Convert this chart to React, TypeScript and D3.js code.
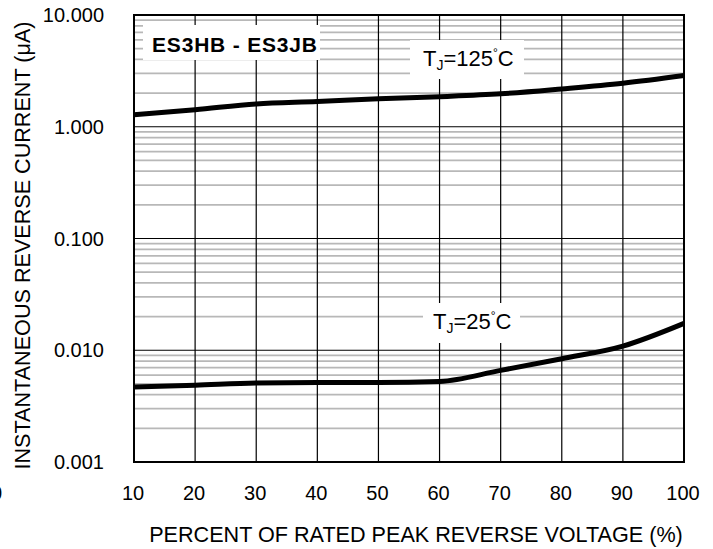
import React, { useEffect, useRef } from 'react';
import * as d3 from 'd3';

const percents = [10, 20, 30, 40, 50, 60, 70, 80, 90, 100];
const current125 = [1.28, 1.42, 1.6, 1.68, 1.78, 1.86, 1.97, 2.18, 2.45, 2.87];
const current25 = [0.0047, 0.00487, 0.0051, 0.00514, 0.00514, 0.00525, 0.0066, 0.0084, 0.0109, 0.0174];
const yTicks = [0.001, 0.01, 0.1, 1, 10];
const yTickLabels = ['0.001', '0.010', '0.100', '1.000', '10.000'];

const W = 713;
const H = 549;
const margin = { top: 15, right: 29, bottom: 87, left: 134 };

const App = () => {
  const ref = useRef<SVGSVGElement>(null);

  useEffect(() => {
    const svg = d3.select(ref.current);
    svg.selectAll('*').remove();
    const font = 'Arial, "Liberation Sans", sans-serif';

    const x = d3.scaleLinear().domain([10, 100]).range([margin.left, W - margin.right]);
    const y = d3.scaleLog().domain([0.001, 10]).range([H - margin.bottom, margin.top]);
    const [x0, x1] = x.range();
    const [y0, y1] = y.range();

    svg.append('rect').attr('width', W).attr('height', H).attr('fill', '#fff');

    // minor log lines 2..9 per decade
    const minors: number[] = [];
    yTicks.slice(0, -1).forEach((d) => {
      for (let k = 2; k <= 9; k++) minors.push(d * k);
    });
    svg
      .append('g')
      .selectAll('line')
      .data(minors)
      .enter()
      .append('line')
      .attr('x1', x0)
      .attr('x2', x1)
      .attr('y1', (d) => y(d))
      .attr('y2', (d) => y(d))
      .attr('stroke', '#b8b8b8')
      .attr('stroke-width', 1.8);

    // decade lines
    svg
      .append('g')
      .selectAll('line')
      .data(yTicks)
      .enter()
      .append('line')
      .attr('x1', x0)
      .attr('x2', x1)
      .attr('y1', (d) => y(d))
      .attr('y2', (d) => y(d))
      .attr('stroke', '#000')
      .attr('stroke-width', 1.2);

    // vertical lines
    svg
      .append('g')
      .selectAll('line')
      .data(percents)
      .enter()
      .append('line')
      .attr('x1', (d) => x(d))
      .attr('x2', (d) => x(d))
      .attr('y1', y0)
      .attr('y2', y1)
      .attr('stroke', '#000')
      .attr('stroke-width', 1.2);

    svg
      .append('rect')
      .attr('x', x0)
      .attr('y', y1)
      .attr('width', x1 - x0)
      .attr('height', y0 - y1)
      .attr('fill', 'none')
      .attr('stroke', '#000')
      .attr('stroke-width', 2);

    // label boxes
    svg.append('rect').attr('x', 143).attr('y', 25).attr('width', 177).attr('height', 35).attr('fill', '#fff');
    svg.append('rect').attr('x', 410).attr('y', 40).attr('width', 114).attr('height', 39).attr('fill', '#fff');
    svg.append('rect').attr('x', 423).attr('y', 303).attr('width', 97).attr('height', 40).attr('fill', '#fff');

    svg
      .append('text')
      .attr('x', 152)
      .attr('y', 52)
      .attr('font-family', font)
      .attr('font-size', 21)
      .attr('font-weight', 'bold')
      .attr('textLength', 165)
      .text('ES3HB - ES3JB');

    const tjLabel = (tx: number, ty: number, temp: string) => {
      const t = svg.append('text').attr('x', tx).attr('y', ty).attr('font-family', font).attr('font-size', 22);
      t.append('tspan').text('T');
      t.append('tspan').attr('font-size', 14).attr('dy', 4).text('J');
      t.append('tspan').attr('dy', -4).text('=' + temp);
      t.append('tspan').attr('font-size', 12).attr('dy', -9).text('°');
      t.append('tspan').attr('dy', 9).text('C');
    };
    tjLabel(423, 66, '125');
    tjLabel(433, 329, '25');

    const line = d3
      .line<number>()
      .x((d, i) => x(percents[i]))
      .y((d) => y(d))
      .curve(d3.curveMonotoneX);

    [current125, current25].forEach((s) => {
      svg
        .append('path')
        .attr('d', line(s))
        .attr('fill', 'none')
        .attr('stroke', '#000')
        .attr('stroke-width', 5)
        .attr('stroke-linejoin', 'round');
    });

    // tick labels
    svg
      .append('g')
      .selectAll('text')
      .data(yTicks)
      .enter()
      .append('text')
      .attr('x', 104)
      .attr('y', (d) => y(d) + 7)
      .attr('text-anchor', 'end')
      .attr('font-family', font)
      .attr('font-size', 20)
      .text((d, i) => yTickLabels[i]);

    svg
      .append('g')
      .selectAll('text')
      .data(percents)
      .enter()
      .append('text')
      .attr('x', (d) => x(d) - 1)
      .attr('y', 500)
      .attr('text-anchor', 'middle')
      .attr('font-family', font)
      .attr('font-size', 20)
      .text((d) => d);

    // clipped fragment at left edge, as in the source image
    svg.append('text').attr('x', -9).attr('y', 500).attr('font-family', font).attr('font-size', 20).text('0');

    svg
      .append('text')
      .attr('x', 416)
      .attr('y', 542)
      .attr('text-anchor', 'middle')
      .attr('font-family', font)
      .attr('font-size', 21.6)
      .text('PERCENT OF RATED PEAK REVERSE VOLTAGE (%)');

    svg
      .append('text')
      .attr('transform', `translate(30,${(23 + 468) / 2}) rotate(-90)`)
      .attr('text-anchor', 'middle')
      .attr('font-family', font)
      .attr('font-size', 21.6)
      .text('INSTANTANEOUS REVERSE CURRENT (μA)');
  }, []);

  return (
    <svg
      ref={ref}
      width={W}
      height={H}
      style={{ position: 'absolute', left: 0, top: 0, display: 'block' }}
    />
  );
};

export default App;
